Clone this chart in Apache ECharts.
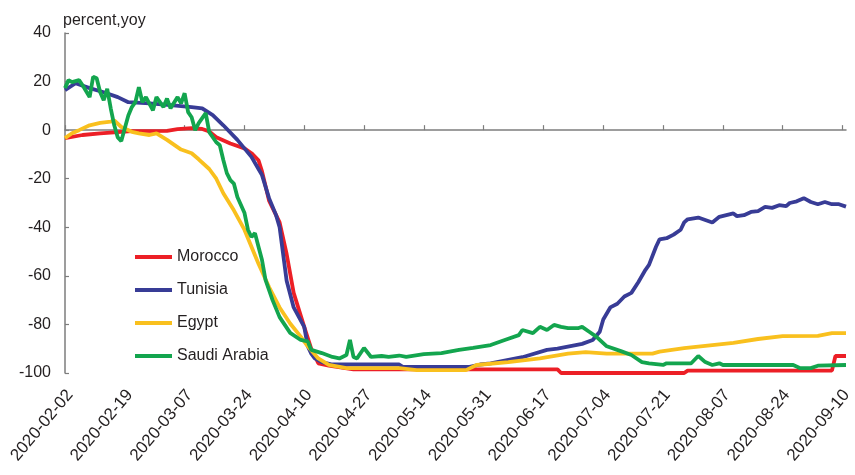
<!DOCTYPE html>
<html><head><meta charset="utf-8">
<script src="https://cdn.jsdelivr.net/npm/echarts@6/dist/echarts.min.js"></script>
<style>html,body{margin:0;padding:0;background:#fff}#c{width:855px;height:475px}</style>
</head><body><div id="c"></div>
<script>
// x = day index counted from 2020-02-02
const startDate = [2020, 1, 2];
const xMaxDay = 222;
const tickDays = [0, 17, 34, 51, 68, 85, 102, 119, 136, 153, 170, 187, 204, 221];
const seriesNames = ['Morocco', 'Tunisia', 'Egypt', 'Saudi Arabia'];

const morocco = [[0,-3.3],[5,-2],[10,-1.3],[15,-0.8],[19,-0.4],[29,-0.3],[32,0.4],[36,0.8],[39,0.5],[41,-0.5],[43,-2.9],[47,-5.5],[51,-7.5],[53,-9.5],[55,-12.4],[56,-17],[58,-29],[61,-38],[63,-51],[65,-67],[68,-81],[70,-90],[72,-96],[75,-97],[82,-98.5],[140,-98.5],[141,-100],[176,-100],[177,-99],[218,-99],[219,-93],[222,-93]];

const tunisia = [[0,16.5],[3,19.3],[7,17.3],[11,15.6],[15,13.6],[18,11.5],[24,11],[30,10.3],[36,9.5],[39,9],[42,6.2],[45,2],[49,-4],[53,-11],[55,-16],[56,-18.5],[58,-28],[60,-35],[61,-40],[62,-51],[63,-62],[65,-73],[68,-81],[69,-89],[70,-92],[71,-94],[73,-95.5],[76,-96.5],[95,-96.5],[96,-97.5],[115,-97.5],[118,-96.5],[121,-96],[130,-93.5],[137,-90.5],[140,-90],[147,-88],[150,-86.4],[152,-83],[153,-78],[155,-73],[157,-71.5],[159,-68.5],[161,-67],[163,-62.5],[165,-57.5],[166,-55.5],[168,-48],[169,-45],[171,-44.5],[173,-43],[175,-41],[176,-38],[177,-36.7],[180,-36],[182,-37],[184,-38],[186,-35.7],[188,-35],[190,-34.3],[191,-35.4],[193,-35],[195,-33.7],[197,-33.3],[199,-31.6],[201,-32],[203,-30.9],[205,-31.3],[206,-30],[208,-29.3],[210,-28],[212,-29.6],[214,-30.5],[216,-29.6],[218,-30.5],[220,-30.5],[222,-31.5]];

const egypt = [[0,-3.3],[2,-1.3],[4,0],[7,2],[10,3],[13,3.5],[14,4],[16,1.3],[19,-0.7],[21,-1.3],[24,-2],[26,-1.3],[29,-4],[33,-8],[36,-9.5],[38,-12],[41,-16],[43,-20],[45,-26],[48,-33],[51,-41],[53,-48],[55,-55],[58,-64.6],[61,-73],[64,-79.6],[67,-85],[69,-89],[72,-94],[75,-96.7],[80,-98],[95,-98],[100,-98.8],[114,-98.8],[117,-96.7],[126,-95.5],[135,-94],[143,-92],[148,-91.4],[154,-92],[167,-92],[169,-91.2],[176,-89.8],[184,-88.5],[190,-87.6],[197,-86],[204,-84.8],[214,-84.7],[218,-83.6],[222,-83.6]];

const saudiArabia = [[0,17.3],[1,20.6],[2,19.8],[4,20.6],[5,18.5],[7,13.6],[8,22],[9,21.4],[10,15.6],[11,12.3],[12,17],[13,9],[14,2],[15,-3],[16,-4.5],[18,6],[19,9.5],[20,11.5],[21,17.7],[22,11.5],[23,13.6],[25,8.2],[26,13.6],[28,9.5],[29,13],[30,9],[32,13.6],[33,11],[34,15.2],[35,7.4],[36,5.3],[37,0],[38,2.9],[40,7],[41,-0.8],[43,-5],[44,-6.2],[45,-12.3],[46,-17.7],[47,-20.6],[48,-22],[49,-27.5],[51,-34],[52,-41],[53,-44],[54,-42.4],[55,-48],[56,-53.5],[57,-61.7],[59,-70],[61,-77],[64,-83.5],[67,-86.4],[69,-87],[70,-90.5],[73,-91.8],[76,-93.4],[78,-94],[80,-92.6],[81,-86.4],[82,-93.4],[83,-94],[85,-89.7],[87,-93.4],[90,-93],[92,-93.4],[95,-92.8],[97,-93.4],[102,-92.2],[107,-91.8],[112,-90.5],[116,-89.7],[121,-88.5],[125,-86.4],[129,-84.4],[130,-82.3],[133,-83.6],[135,-81],[137,-82.3],[139,-80.2],[141,-81],[143,-81.5],[146,-81.5],[147,-81],[149,-83],[151,-85],[154,-89],[158,-91],[161,-92.6],[164,-95.5],[166,-96],[170,-96.7],[171,-96],[178,-96],[180,-93],[182,-95.5],[184,-96.7],[186,-96],[187,-96.7],[207,-96.7],[209,-98],[212,-98],[214,-97],[222,-96.7]];

const seriesData = [morocco, tunisia, egypt, saudiArabia];
const seriesColors = ['#ec1f26', '#383c96', '#f9c01e', '#13a54e'];

const FONT = '"Liberation Sans", Arial, sans-serif';
const TXT = '#231f20';
const AXIS = '#7d7d7d';

function dayLabel(d) {
  const t = new Date(Date.UTC(startDate[0], startDate[1], startDate[2]) + d * 86400000);
  return t.toISOString().slice(0, 10);
}

const chart = echarts.init(document.getElementById('c'), null, {renderer: 'canvas'});
chart.setOption({
  animation: false,
  backgroundColor: '#fff',
  textStyle: {fontFamily: FONT},
  title: {text: 'percent,yoy', left: 58, top: 8, textStyle: {fontSize: 16, fontWeight: 'normal', color: TXT, fontFamily: FONT}},
  legend: {
    orient: 'vertical', left: 130, top: 244, itemWidth: 37, itemHeight: 4, itemGap: 17,
    icon: 'rect', data: seriesNames,
    textStyle: {fontSize: 16, color: TXT, fontFamily: FONT}
  },
  grid: [
    {left: 65, right: 9, top: 33, bottom: 102},
    {left: 70, right: 4, top: 33, bottom: 102}
  ],
  xAxis: [
    {
      type: 'value', gridIndex: 0, min: 0, max: xMaxDay, position: 'bottom',
      axisLine: {show: true, onZero: true, lineStyle: {color: AXIS, width: 1.5}},
      axisTick: {show: true, inside: true, length: 5, customValues: tickDays, lineStyle: {color: AXIS, width: 1.2}},
      axisLabel: {show: false}, splitLine: {show: false}
    },
    {
      type: 'value', gridIndex: 1, min: 0, max: xMaxDay, position: 'bottom',
      axisLine: {show: false, onZero: false}, axisTick: {show: false}, splitLine: {show: false},
      axisLabel: {customValues: tickDays, rotate: 50, formatter: dayLabel, fontSize: 17, color: TXT, margin: 19, fontFamily: FONT}
    }
  ],
  yAxis: [
    {
      type: 'value', gridIndex: 0, min: -100, max: 40, interval: 20,
      axisLine: {show: true, onZero: false, lineStyle: {color: AXIS, width: 1.5}},
      axisTick: {show: true, inside: true, length: 4, lineStyle: {color: AXIS, width: 1.2}},
      splitLine: {show: false},
      axisLabel: {fontSize: 16, color: TXT, margin: 14, fontFamily: FONT}
    },
    {type: 'value', gridIndex: 1, min: -100, max: 40, show: false}
  ],
  series: seriesNames.map((n, i) => ({
    name: n, type: 'line', xAxisIndex: 0, yAxisIndex: 0, data: seriesData[i],
    showSymbol: false, symbol: 'none', color: seriesColors[i],
    lineStyle: {width: 3.8, color: seriesColors[i]}
  }))
});
</script></body></html>
